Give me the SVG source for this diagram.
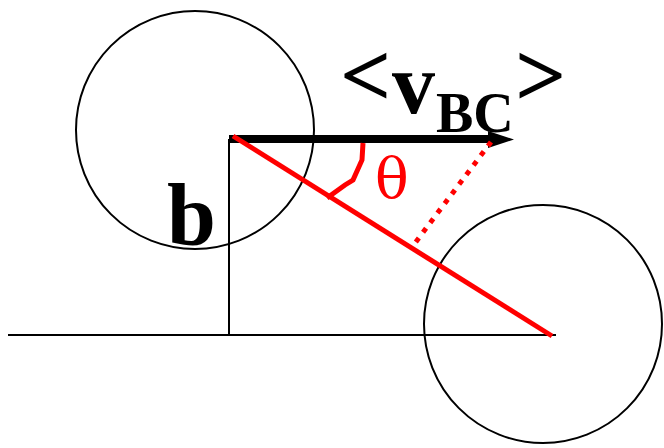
<svg xmlns="http://www.w3.org/2000/svg" width="664" height="448" viewBox="0 0 664 448">
<style>
.thin{stroke:#000;stroke-width:2;fill:none}
.red{stroke:#f00;fill:none}
.lbl{font-family:"Liberation Serif","Times New Roman",serif;font-weight:bold;fill:#000}
</style>
<rect width="664" height="448" fill="#fff"/>
<g id="circle1"><circle cx="195" cy="130" r="119" class="thin"/></g>
<g id="circle2"><circle cx="543" cy="324" r="119" class="thin"/></g>
<g id="connectors">
<line x1="8" y1="335" x2="556" y2="335" class="thin"/>
<line x1="229" y1="335" x2="229" y2="139" class="thin"/>
<line x1="229" y1="139" x2="492" y2="139" stroke="#000" stroke-width="8"/>
<polygon points="488,131 514,139.5 488,148" fill="#000"/>
<line x1="233" y1="136" x2="552" y2="336" class="red" stroke-width="5"/>
<line x1="491" y1="142" x2="412" y2="247" class="red" stroke-width="5" stroke-dasharray="5 7"/>
<path d="M363,143 L362,160 L353,180 L345,185 L327,198" class="red" stroke-width="5"/>
</g>
<g id="labels">
<text x="340" y="106" class="lbl" font-size="90">&lt;</text>
<text x="392" y="113" class="lbl" font-size="86">v</text>
<text x="436" y="132" class="lbl" font-size="56">BC</text>
<text x="515" y="106" class="lbl" font-size="90">&gt;</text>
<text x="167" y="245" class="lbl" font-size="88">b</text>
<text x="375" y="198" font-family="DejaVu Serif, serif" font-size="56" fill="#f00">θ</text>
</g>
</svg>
